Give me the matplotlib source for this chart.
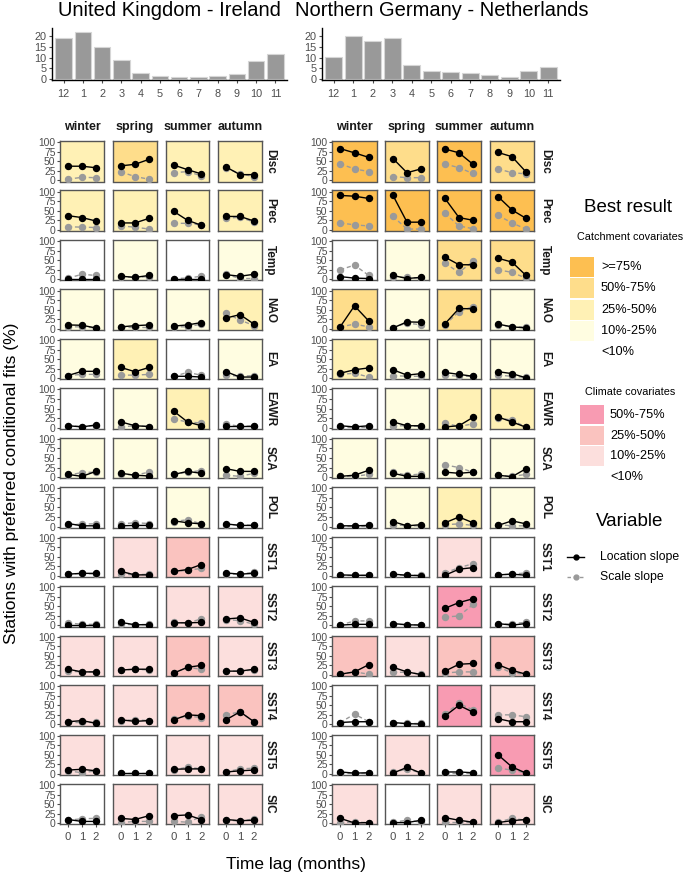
import matplotlib
matplotlib.use("Agg")
import matplotlib.pyplot as plt

plt.rcParams['font.family'] = ['Liberation Sans', 'DejaVu Sans']

# ---------------- data ----------------
months = [12, 1, 2, 3, 4, 5, 6, 7, 8, 9, 10, 11]
uk_month_pct = [19.5, 22.0, 15.0, 9.0, 2.5, 1.3, 0.7, 0.7, 1.3, 2.3, 8.3, 11.8]
ngn_month_pct = [10.5, 20.3, 17.7, 19.5, 6.5, 3.5, 3.2, 2.8, 2.0, 0.8, 3.5, 5.5]

regions = ["United Kingdom - Ireland", "Northern Germany - Netherlands"]
seasons = ["winter", "spring", "summer", "autumn"]
covariates = ["Disc", "Prec", "Temp", "NAO", "EA", "EAWR", "SCA", "POL",
              "SST1", "SST2", "SST3", "SST4", "SST5", "SIC"]
covariate_group = ["catchment"] * 8 + ["climate"] * 6
lags = [0, 1, 2]

catchment_labels = [">=75%", "50%-75%", "25%-50%", "10%-25%", "<10%"]
climate_labels = ["50%-75%", "25%-50%", "10%-25%", "<10%"]

# location slope (%), rows = covariates, cols = seasons, 3 lags
uk_loc = [
    [[37, 37, 33], [38, 42, 55], [40, 28, 17], [35, 15, 15]],
    [[37, 32, 23], [18, 18, 30], [48, 25, 12], [35, 35, 23]],
    [[2, 2, 2], [8, 5, 10], [2, 2, 2], [12, 8, 13]],
    [[10, 9, 2], [5, 8, 10], [7, 10, 16], [28, 37, 12]],
    [[7, 18, 18], [28, 17, 28], [5, 5, 3], [17, 3, 3]],
    [[5, 2, 7], [15, 5, 3], [43, 15, 5], [5, 5, 5]],
    [[7, 2, 15], [10, 5, 3], [7, 15, 10], [22, 15, 15]],
    [[8, 2, 2], [2, 3, 3], [15, 10, 7], [7, 3, 3]],
    [[5, 7, 7], [12, 3, 3], [12, 17, 30], [8, 5, 7]],
    [[2, 2, 2], [8, 2, 2], [7, 7, 8], [17, 20, 8]],
    [[15, 8, 8], [13, 15, 15], [5, 20, 25], [10, 10, 15]],
    [[7, 10, 3], [12, 8, 10], [12, 25, 23], [12, 33, 7]],
    [[10, 12, 8], [2, 2, 2], [12, 13, 13], [5, 8, 10]],
    [[10, 5, 5], [13, 10, 20], [20, 22, 10], [10, 7, 8]],
]
uk_scale = [
    [[3, 8, 7], [22, 10, 3], [20, 23, 12], [33, 17, 10]],
    [[8, 7, 6], [10, 7, 2], [17, 17, 13], [30, 33, 20]],
    [[3, 13, 10], [7, 5, 7], [2, 3, 8], [13, 2, 2]],
    [[5, 5, 2], [5, 5, 5], [5, 5, 12], [40, 23, 8]],
    [[7, 10, 10], [8, 8, 10], [5, 15, 8], [8, 5, 7]],
    [[5, 3, 5], [2, 5, 3], [22, 15, 12], [10, 3, 5]],
    [[5, 12, 13], [8, 5, 13], [7, 13, 17], [5, 2, 10]],
    [[3, 7, 7], [7, 10, 8], [13, 18, 7], [5, 5, 3]],
    [[5, 7, 5], [5, 3, 5], [12, 15, 20], [5, 5, 10]],
    [[7, 3, 3], [3, 2, 3], [8, 7, 17], [15, 13, 3]],
    [[10, 8, 8], [13, 15, 13], [5, 20, 15], [10, 10, 13]],
    [[7, 7, 7], [10, 12, 10], [15, 22, 18], [25, 33, 7]],
    [[8, 3, 8], [2, 2, 2], [10, 18, 13], [5, 13, 15]],
    [[8, 12, 13], [2, 5, 5], [5, 3, 17], [10, 5, 12]],
]
# best-result class: 0 = <10%, 1 = 10-25%, 2 = 25-50%, 3 = 50-75%, 4 = >=75%
uk_level = [
    [2, 3, 2, 2], [2, 2, 2, 2], [0, 1, 0, 1], [1, 1, 1, 2],
    [1, 2, 0, 1], [0, 1, 2, 0], [1, 1, 1, 1], [0, 0, 1, 0],
    [0, 1, 2, 0], [0, 0, 1, 1], [1, 1, 2, 1], [1, 1, 2, 2],
    [1, 0, 1, 1], [0, 1, 1, 1],
]

ngn_loc = [
    [[83, 72, 60], [57, 20, 30], [82, 72, 42], [73, 62, 22]],
    [[90, 88, 82], [90, 20, 20], [82, 32, 25], [87, 52, 30]],
    [[7, 3, 2], [10, 2, 5], [58, 38, 38], [55, 45, 10]],
    [[5, 60, 20], [2, 18, 17], [13, 53, 52], [12, 5, 2]],
    [[13, 22, 27], [22, 8, 12], [15, 10, 5], [17, 12, 1]],
    [[5, 2, 5], [15, 5, 5], [2, 5, 27], [28, 15, 1]],
    [[2, 5, 18], [10, 2, 2], [13, 10, 13], [5, 1, 22]],
    [[2, 2, 3], [13, 2, 5], [10, 25, 10], [3, 15, 7]],
    [[3, 2, 2], [5, 2, 1], [2, 18, 22], [3, 5, 2]],
    [[1, 3, 3], [5, 2, 1], [45, 60, 70], [5, 1, 5]],
    [[2, 8, 27], [20, 8, 1], [10, 28, 30], [27, 12, 2]],
    [[5, 7, 7], [5, 2, 1], [22, 50, 32], [15, 7, 7]],
    [[5, 2, 3], [2, 17, 2], [5, 5, 3], [50, 18, 2]],
    [[13, 1, 2], [2, 2, 8], [15, 8, 3], [2, 7, 10]],
]
ngn_scale = [
    [[43, 30, 23], [10, 7, 7], [43, 33, 18], [30, 20, 17]],
    [[18, 13, 10], [35, 2, 2], [43, 10, 3], [38, 18, 2]],
    [[25, 37, 10], [7, 5, 3], [42, 18, 47], [25, 18, 3]],
    [[5, 12, 5], [3, 15, 10], [10, 45, 58], [10, 5, 5]],
    [[10, 13, 3], [7, 5, 5], [8, 5, 5], [8, 5, 2]],
    [[3, 3, 3], [5, 5, 3], [12, 3, 10], [25, 20, 1]],
    [[2, 2, 7], [13, 5, 8], [32, 25, 13], [5, 2, 7]],
    [[2, 2, 2], [5, 2, 2], [5, 7, 3], [5, 2, 2]],
    [[3, 3, 3], [3, 2, 2], [8, 22, 32], [3, 5, 8]],
    [[1, 12, 12], [3, 2, 2], [22, 25, 55], [2, 5, 8]],
    [[2, 8, 2], [7, 7, 2], [5, 8, 8], [22, 5, 2]],
    [[5, 27, 7], [3, 3, 3], [28, 55, 38], [25, 25, 20]],
    [[2, 2, 2], [5, 12, 3], [2, 2, 2], [15, 10, 2]],
    [[2, 3, 2], [3, 8, 3], [3, 3, 3], [3, 13, 8]],
]
ngn_level = [
    [4, 3, 4, 3], [4, 4, 4, 4], [0, 1, 3, 3], [3, 1, 3, 1],
    [2, 1, 1, 1], [0, 1, 2, 2], [1, 1, 1, 1], [0, 1, 2, 1],
    [0, 0, 1, 0], [0, 0, 3, 0], [2, 1, 2, 2], [0, 0, 3, 1],
    [0, 1, 0, 3], [1, 0, 1, 1],
]

# ---------------- styles ----------------
catchment_colors = ["#FFFFFF", "#FFFDE1", "#FFF1B5", "#FEDD8B", "#FDBF51"]
climate_colors = ["#FFFFFF", "#FCDFDD", "#FAC3BF", "#F89BB2"]
LOC_C = "black"
SCL_C = "#9A9A9A"
TXT = "#4D4D4D"

W, H = 685, 877
fig = plt.figure(figsize=(W / 100, H / 100), dpi=100)


def rect(x0, y0, x1, y1):
    return [x0 / W, 1 - y1 / H, (x1 - x0) / W, (y1 - y0) / H]


def px(x, y):
    return x / W, 1 - y / H


# ---------------- top bar charts ----------------
bar_boxes = [(52, 28, 287, 80), (322, 28, 560, 80)]
title_x = [169, 442]
for r, (vals, box) in enumerate(zip([uk_month_pct, ngn_month_pct], bar_boxes)):
    ax = fig.add_axes(rect(*box))
    pos = list(range(len(months)))
    ax.bar(pos, vals, width=0.85, color="#999999", edgecolor="#D6D6D6", linewidth=0.8)
    ax.set_xlim(-0.6, 11.6)
    ax.set_ylim(-0.6, 24)
    ax.set_xticks(pos)
    ax.set_xticklabels([str(m) for m in months])
    ax.set_yticks([0, 5, 10, 15, 20])
    for s in ["top", "right"]:
        ax.spines[s].set_visible(False)
    for s in ["left", "bottom"]:
        ax.spines[s].set_linewidth(1.0)
    ax.tick_params(labelsize=7.8, colors=TXT, length=2.5, width=0.8, pad=1.5)
    ax.tick_params(axis="x", pad=4)
    ax.patch.set_alpha(0)
    fig.text(*px(title_x[r], 11), regions[r], ha="center", va="center", fontsize=14.5)

# ---------------- panel grid ----------------
col_x = [[(60, 104), (113, 157), (166, 209), (218, 262)],
         [(332, 377), (385, 429), (437, 481), (490, 534)]]
strip_x = [270, 545]
row_top0 = 141
row_pitch = 49.46
row_h = 40.5

region_data = [(uk_loc, uk_scale, uk_level), (ngn_loc, ngn_scale, ngn_level)]

for r in range(2):
    loc, scl, lev = region_data[r]
    for i, cov in enumerate(covariates):
        y0 = row_top0 + i * row_pitch
        y1 = y0 + row_h
        palette = catchment_colors if covariate_group[i] == "catchment" else climate_colors
        for j, season in enumerate(seasons):
            x0, x1 = col_x[r][j]
            ax = fig.add_axes(rect(x0, y0, x1, y1))
            ax.set_facecolor(palette[lev[i][j]])
            ax.plot(lags, scl[i][j], color=SCL_C, lw=1.0, ls=(0, (3, 2)),
                    marker="o", ms=4.3, mec=SCL_C, mfc=SCL_C, zorder=3)
            ax.plot(lags, loc[i][j], color=LOC_C, lw=1.0, marker="o", ms=4.3,
                    zorder=4)
            ax.set_xlim(-0.57, 2.57)
            ax.set_ylim(-3, 103)
            ax.set_yticks([0, 25, 50, 75, 100])
            ax.set_xticks(lags)
            for s in ax.spines.values():
                s.set_edgecolor("#555555")
                s.set_linewidth(1.0)
            ax.tick_params(labelsize=7.4, colors=TXT, length=2.2, width=0.8, pad=1)
            if j != 0:
                ax.tick_params(axis="y", left=False, labelleft=False)
            if i != len(covariates) - 1:
                ax.tick_params(axis="x", bottom=False, labelbottom=False)
            else:
                ax.tick_params(axis="x", labelsize=8.2, pad=3)
            if i == 0:
                fig.text(*px((x0 + x1) / 2, 127), season, ha="center", va="center",
                         fontsize=9, fontweight="bold", color="#1A1A1A")
        fig.text(*px(strip_x[r], (y0 + y1) / 2), cov, ha="center", va="center",
                 rotation=-90, fontsize=8.5, fontweight="bold", color="#1A1A1A")

# axis labels
fig.text(*px(12, 483), "Stations with preferred conditional fits (%)", rotation=90,
         ha="center", va="center", fontsize=12.5)
fig.text(*px(296, 864), "Time lag (months)", ha="center", va="center", fontsize=12.5)

# ---------------- legend ----------------
fig.text(*px(628, 207), "Best result", ha="center", va="center", fontsize=13.5)
fig.text(*px(630, 237), "Catchment covariates", ha="center", va="center", fontsize=7.8)
sw_top = 257
for k, lab in enumerate(catchment_labels):
    yc = sw_top + k * 21.3
    if k < 4:
        ax = fig.add_axes(rect(570, yc, 594, yc + 20))
        ax.set_facecolor(catchment_colors[4 - k])
        ax.set_xticks([]); ax.set_yticks([])
        for s in ax.spines.values():
            s.set_visible(False)
    fig.text(*px(601, yc + 10), lab, ha="left", va="center", fontsize=9.2)

fig.text(*px(630, 392), "Climate covariates", ha="center", va="center", fontsize=7.8)
sw_top2 = 405
for k, lab in enumerate(climate_labels):
    yc = sw_top2 + k * 20.7
    if k < 3:
        ax = fig.add_axes(rect(580, yc, 604, yc + 19.5))
        ax.set_facecolor(climate_colors[3 - k])
        ax.set_xticks([]); ax.set_yticks([])
        for s in ax.spines.values():
            s.set_visible(False)
    fig.text(*px(610, yc + 10), lab, ha="left", va="center", fontsize=9.2)

fig.text(*px(630, 522), "Variable", ha="center", va="center", fontsize=13.5)
lax = fig.add_axes(rect(566, 547, 590, 587))
lax.set_xlim(0, 1); lax.set_ylim(587, 547)
lax.axis("off")
lax.plot([0.05, 0.75], [557, 557], color=LOC_C, lw=1.0)
lax.plot([0.4], [557], color=LOC_C, marker="o", ms=3.5)
lax.plot([0.05, 0.75], [577, 577], color=SCL_C, lw=1.0, ls=(0, (2.5, 2)))
lax.plot([0.4], [577], color=SCL_C, marker="o", ms=3.5)
fig.text(*px(600, 557), "Location slope", ha="left", va="center", fontsize=8.8)
fig.text(*px(600, 577), "Scale slope", ha="left", va="center", fontsize=8.8)

fig.savefig("out.png", dpi=100)
